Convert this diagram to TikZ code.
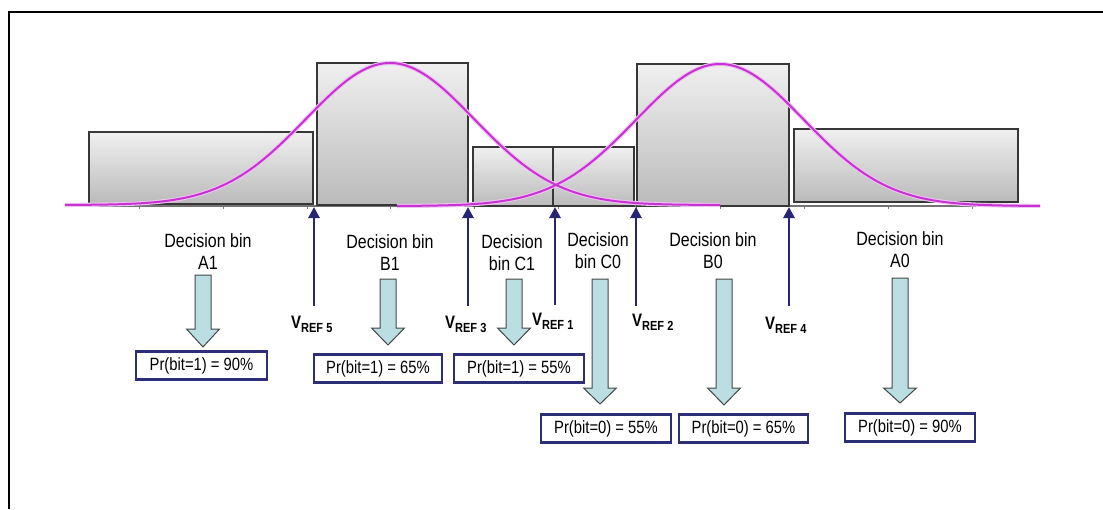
\documentclass[tikz,border=0pt]{standalone}
\usepackage{fontspec}
\usepackage{graphicx}
\setmainfont{Liberation Sans}
\usetikzlibrary{arrows.meta}

\definecolor{navy}{RGB}{38,38,115}
\definecolor{boxnavy}{RGB}{45,45,120}
\definecolor{curvemag}{RGB}{200,50,210}
\definecolor{arrowfill}{RGB}{186,222,226}
\definecolor{arrowedge}{RGB}{70,70,70}
\definecolor{binedge}{RGB}{55,55,55}

% text of the printed labels is slightly taller than it is wide
\newcommand\vstretch[1]{\scalebox{1}[1.2]{#1}}
% wide block arrow pointing down: centre x, shaft top, head top, tip
\newcommand\binarrow[4]{%
  \filldraw[binarrowstyle] (#1-8,#2) -- (#1+8,#2) -- (#1+8,#3) -- (#1+16.5,#3)
    -- (#1,#4) -- (#1-16.5,#3) -- (#1-8,#3) -- cycle;}

\tikzset{
  graybox/.style={draw=binedge, line width=1.4pt, top color=black!6, bottom color=black!27,
    rectangle, anchor=north west, inner sep=0pt, outer sep=0pt},
  halo/.style={curvemag!30, line width=4.2pt},
  curve/.style={curvemag, line width=2pt},
  axisline/.style={black!55, line width=1.2pt},
  tick/.style={black!55, line width=0.8pt},
  binlabel/.style={align=center, font=\fontsize{16}{22}\selectfont, inner sep=0pt},
  prbox/.style={draw=boxnavy, line width=2.8pt, fill=white, minimum height=28.5,
    inner sep=0pt, font=\fontsize{14.8}{16}\selectfont},
  vrefarrow/.style={navy, line width=2.7pt, -{Triangle[width=11pt,length=11pt]}},
  vlabel/.style={anchor=base west, inner sep=0pt, font=\fontsize{15}{15}\selectfont\bfseries},
  binarrowstyle/.style={fill=arrowfill, draw=arrowedge, line width=1pt, line join=miter},
}

\newcommand\vsub[1]{V\raisebox{-3.5pt}{\fontsize{11}{11}\selectfont REF #1}}

\begin{document}
\begin{tikzpicture}[x=1pt,y=-1pt]
\useasboundingbox (0,0) rectangle (1103,509);

% frame edges
\draw[line width=2.2pt] (9,509) -- (9,12) -- (1103,12);

% horizontal axis with faint ticks
\draw[axisline] (65,206) -- (1040,206);
\foreach \t in {139,223,307,390,474,558,636,720,804,888,972}
  \draw[tick] (\t,206) -- (\t,209);

% decision bin bars
\node[graybox, minimum width=224, minimum height=72]  (barA1) at (89,132) {};
\node[graybox, minimum width=151, minimum height=142] (barB1) at (317,63) {};
\node[graybox, minimum width=80,  minimum height=59]  (barC1) at (473,147) {};
\node[graybox, minimum width=81,  minimum height=59]  (barC0) at (553,147) {};
\node[graybox, minimum width=152, minimum height=142] (barB0) at (637,64) {};
\node[graybox, minimum width=224, minimum height=73]  (barA0) at (794,129) {};

% the two distributions
\draw[halo] plot[domain=65:720, samples=180, smooth]
  (\x, {205-142*exp(-0.5*((\x-390)/84)*((\x-390)/84))});
\draw[halo] plot[domain=397:1040, samples=180, smooth]
  (\x, {206-142*exp(-0.5*((\x-720)/84)*((\x-720)/84))});
\draw[curve] plot[domain=65:720, samples=180, smooth]
  (\x, {205-142*exp(-0.5*((\x-390)/84)*((\x-390)/84))});
\draw[curve] plot[domain=397:1040, samples=180, smooth]
  (\x, {206-142*exp(-0.5*((\x-720)/84)*((\x-720)/84))});

% reference voltage thresholds
\coordinate (r5b) at (314,306); \coordinate (r5t) at (314,207);
\coordinate (r3b) at (468,306); \coordinate (r3t) at (468,207);
\coordinate (r1b) at (555,305); \coordinate (r1t) at (555,207);
\coordinate (r2b) at (636,306); \coordinate (r2t) at (636,207);
\coordinate (r4b) at (789,306); \coordinate (r4t) at (789,207);
\foreach \r in {5,3,1,2,4} \draw[vrefarrow] (r\r b) -- (r\r t);

\node[vlabel] (lv5) at (291,328) {\vstretch{\vsub{5}}};
\node[vlabel] (lv3) at (445,328) {\vstretch{\vsub{3}}};
\node[vlabel] (lv1) at (532,325) {\vstretch{\vsub{1}}};
\node[vlabel] (lv2) at (632,326) {\vstretch{\vsub{2}}};
\node[vlabel] (lv4) at (765,329) {\vstretch{\vsub{4}}};

% bin names
\node[binlabel] (labA1) at (208,252) {\vstretch{Decision bin}\\\vstretch{A1}};
\node[binlabel] (labB1) at (390,253) {\vstretch{Decision bin}\\\vstretch{B1}};
\node[binlabel] (labC1) at (512,253) {\vstretch{Decision}\\\vstretch{bin C1}};
\node[binlabel] (labC0) at (598,251) {\vstretch{Decision}\\\vstretch{bin C0}};
\node[binlabel] (labB0) at (713,251) {\vstretch{Decision bin}\\\vstretch{B0}};
\node[binlabel] (labA0) at (900,250) {\vstretch{Decision bin}\\\vstretch{A0}};

% arrows from bins to probabilities
\binarrow{203}{275}{329}{347}
\binarrow{388}{279}{328}{345}
\binarrow{514}{279}{328}{345}
\binarrow{600}{279}{388}{404}
\binarrow{724}{279}{388}{405}
\binarrow{900}{278}{388}{403}

% probability boxes
\node[prbox, minimum width=131] (prA1) at (201.5,365.5) {\vstretch{Pr(bit=1) = 90\%}};
\node[prbox, minimum width=128] (prB1) at (378,368.5)   {\vstretch{Pr(bit=1) = 65\%}};
\node[prbox, minimum width=130] (prC1) at (519,368.5)   {\vstretch{Pr(bit=1) = 55\%}};
\node[prbox, minimum width=130] (prC0) at (606,428.5)   {\vstretch{Pr(bit=0) = 55\%}};
\node[prbox, minimum width=129] (prB0) at (743.5,428.5) {\vstretch{Pr(bit=0) = 65\%}};
\node[prbox, minimum width=130] (prA0) at (910,427.5)   {\vstretch{Pr(bit=0) = 90\%}};
\end{tikzpicture}
\end{document}
